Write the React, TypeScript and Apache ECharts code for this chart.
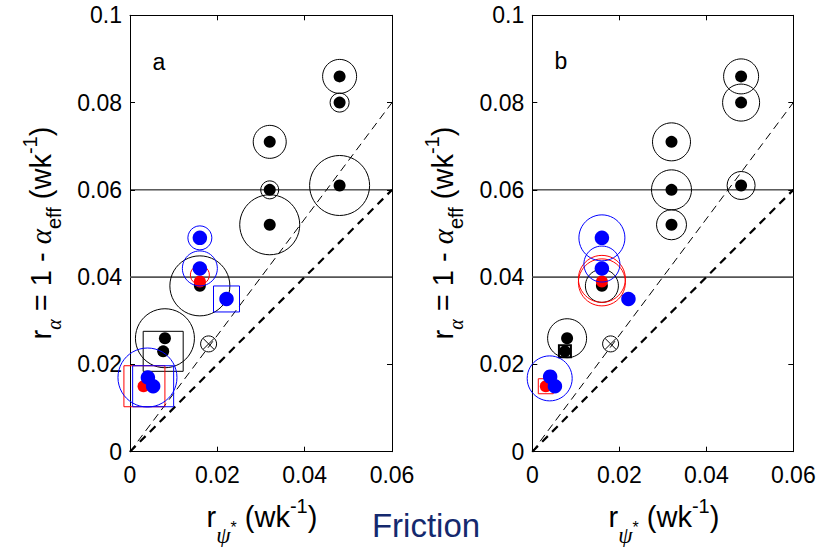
import React, { useEffect, useRef } from "react";
import * as echarts from "echarts";

// ---- axis ticks ----
const xTickValues = [0, 0.02, 0.04, 0.06];
const yTickValues = [0, 0.02, 0.04, 0.06, 0.08, 0.1];

// ---- reference lines ----
const horizontalLevels = [0.04, 0.06];
const steepLine = [[0, 0], [0.06, 0.08]];
const identityLine = [[0, 0], [0.06, 0.06]];

// ---- panel a ----  [x, y] for dots, [x, y, spread] for rings / squares
const aBlackDots = [
  [0.048, 0.086], [0.048, 0.08], [0.032, 0.071], [0.032, 0.06], [0.048, 0.061],
  [0.032, 0.052], [0.016, 0.038], [0.008, 0.026], [0.0076, 0.023],
];
const aBlackRings = [
  [0.048, 0.086, 3.4], [0.048, 0.08, 1.9], [0.032, 0.071, 3.3], [0.032, 0.06, 1.8],
  [0.048, 0.061, 6.0], [0.032, 0.052, 6.0], [0.016, 0.038, 6.0], [0.008, 0.026, 5.9],
];
const aBlackSquares = [[0.0076, 0.023, 4.0]];
const aCrossed = [[0.018, 0.0247]];
const aRedDots = [[0.016, 0.039], [0.0031, 0.015]];
const aRedRings = [[0.016, 0.0405, 1.9]];
const aRedSquares = [[0.0033, 0.015, 4.1]];
const aBlueDots = [[0.016, 0.049], [0.016, 0.042], [0.0221, 0.035], [0.0041, 0.017], [0.0053, 0.015]];
const aBlueRings = [[0.016, 0.049, 2.4], [0.016, 0.042, 3.5], [0.004, 0.017, 5.9]];
const aBlueSquares = [[0.0221, 0.035, 2.6], [0.0053, 0.015, 4.1]];

// ---- panel b ----
const bBlackDots = [
  [0.048, 0.086], [0.048, 0.08], [0.032, 0.071], [0.032, 0.06], [0.048, 0.061],
  [0.032, 0.052], [0.016, 0.038], [0.008, 0.026], [0.0075, 0.023],
];
const bBlackRings = [
  [0.048, 0.086, 3.5], [0.048, 0.08, 3.7], [0.032, 0.071, 3.8], [0.032, 0.06, 4.0],
  [0.048, 0.061, 2.8], [0.032, 0.052, 3.0], [0.016, 0.038, 3.3], [0.008, 0.026, 3.9],
];
const bBlackSquares = [[0.0075, 0.023, 1.2]];
const bCrossed = [[0.018, 0.0247]];
const bRedDots = [[0.016, 0.039], [0.0031, 0.015]];
const bRedRings = [[0.016, 0.0396, 4.7], [0.016, 0.0388, 4.7]];
const bRedSquares = [[0.0031, 0.015, 1.5]];
const bBlueDots = [[0.016, 0.049], [0.016, 0.042], [0.0221, 0.035], [0.0041, 0.0172], [0.0052, 0.015]];
const bBlueRings = [[0.016, 0.049, 4.6], [0.016, 0.043, 3.6], [0.004, 0.0168, 4.5]];
const bBlueSquares: number[][] = [];

const SANS = '"Liberation Sans", Arial, Helvetica, sans-serif';
const SERIF = '"Liberation Serif", "Times New Roman", serif';
const BLACK = "#000000";
const BLUE = "#0000ff";
const RED = "#ff0000";
const SPREAD_PX = 10;

const fmt = (v: number) => String(Number(v.toFixed(2)));

// text measurement for composite (sub/superscript) labels
const ctx = typeof document !== "undefined" ? document.createElement("canvas").getContext("2d") : null;
const measure = (t: string, size: number, family: string, italic: boolean) => {
  if (!ctx) return t.length * size * 0.55;
  ctx.font = `${italic ? "italic " : ""}${size}px ${family}`;
  return ctx.measureText(t).width;
};

type Part = { t: string; size: number; dy?: number; serif?: boolean; italic?: boolean };

function composite(parts: Part[], x: number, y: number, rotation: number, color = "#000") {
  const widths = parts.map((p) => measure(p.t, p.size, p.serif ? SERIF : SANS, !!p.italic));
  const total = widths.reduce((a, b) => a + b, 0);
  let cursor = -total / 2;
  const children = parts.map((p, i) => {
    const el = {
      type: "text",
      x: cursor,
      y: p.dy || 0,
      style: {
        text: p.t,
        fontSize: p.size,
        fontFamily: p.serif ? SERIF : SANS,
        fontStyle: p.italic ? "italic" : "normal",
        fill: color,
        align: "left",
        verticalAlign: "middle",
      },
    };
    cursor += widths[i];
    return el;
  });
  return { type: "group", x, y, rotation, silent: true, children };
}

const M = 29;
const S = 20;
const yTitleParts: Part[] = [
  { t: "r", size: M },
  { t: "α", size: S, dy: 13, serif: true, italic: true },
  { t: " = 1 - ", size: M },
  { t: "α", size: M, serif: true, italic: true },
  { t: "eff", size: S, dy: 13 },
  { t: " (wk", size: M },
  { t: "-1", size: S, dy: -11 },
  { t: ")", size: M },
];
const xTitleParts: Part[] = [
  { t: "r", size: M },
  { t: "ψ", size: 23, dy: 18, serif: true, italic: true },
  { t: "*", size: 16, dy: 10 },
  { t: " (wk", size: M },
  { t: "-1", size: S, dy: -11 },
  { t: ")", size: M },
];

const GRID_TOP = 15.3;
const GRID_H = 436.4;
const grids = [
  { left: 130, top: GRID_TOP, width: 262, height: GRID_H },
  { left: 532.3, top: GRID_TOP, width: 261, height: GRID_H },
];

const tickLabel = { fontSize: 23, fontFamily: SANS, color: "#000" };

function axesFor(g: number) {
  const common = {
    type: "value",
    gridIndex: g,
    splitLine: { show: false },
    axisLine: { show: true, onZero: false, lineStyle: { color: "#000", width: 1 } },
    axisTick: { show: true, inside: true, length: 5, lineStyle: { color: "#000", width: 1 } },
  };
  const xs = [
    { ...common, position: "bottom", min: 0, max: 0.06, interval: 0.02,
      axisLabel: { ...tickLabel, margin: 12, formatter: fmt, showMinLabel: true, showMaxLabel: true } },
    { ...common, position: "top", min: 0, max: 0.06, interval: 0.02, axisLabel: { show: false } },
  ];
  const ys = [
    { ...common, position: "left", min: 0, max: 0.1, interval: 0.02,
      axisLabel: { ...tickLabel, margin: 8, formatter: fmt, showMinLabel: true, showMaxLabel: true } },
    { ...common, position: "right", min: 0, max: 0.1, interval: 0.02, axisLabel: { show: false } },
  ];
  return { xs, ys };
}

function panelSeries(p: number, d: {
  blackDots: number[][]; blackRings: number[][]; blackSquares: number[][]; crossed: number[][];
  redDots: number[][]; redRings: number[][]; redSquares: number[][];
  blueDots: number[][]; blueRings: number[][]; blueSquares: number[][];
}, squareBorder: number) {
  const xi = p * 2;
  const yi = p * 2;
  const base = { type: "scatter", xAxisIndex: xi, yAxisIndex: yi, silent: true, clip: false, emphasis: { disabled: true }, animation: false };
  const dots = (data: number[][], color: string, size: number, z: number) => ({
    ...base, data, symbol: "circle", symbolSize: size, itemStyle: { color, opacity: 1 }, z,
  });
  const outline = (data: number[][], color: string, symbol: string, z: number, bw = 1) => ({
    ...base, data, symbol, symbolSize: (v: number[]) => v[2] * SPREAD_PX,
    itemStyle: { color: "rgba(0,0,0,0)", borderColor: color, borderWidth: bw, opacity: 1 }, z,
  });
  const lines = [
    ...horizontalLevels.map((lv, i) => ({
      type: "line", xAxisIndex: xi, yAxisIndex: yi, silent: true, symbol: "none", z: 1,
      data: [[0, lv], [0.06, lv]],
      lineStyle: i === 0 ? { color: "#555", width: 1.8 } : { color: "#000", width: 1 },
    })),
    { type: "line", xAxisIndex: xi, yAxisIndex: yi, silent: true, symbol: "none", z: 1, clip: true,
      data: steepLine, lineStyle: { color: "#000", width: 1, type: [8, 5] } },
    { type: "line", xAxisIndex: xi, yAxisIndex: yi, silent: true, symbol: "none", z: 1,
      data: identityLine, lineStyle: { color: "#000", width: 2.2, type: [8, 6] } },
  ];
  return [
    ...lines,
    dots(d.blackDots, BLACK, 12, 3),
    outline(d.blackRings, BLACK, "circle", 3),
    outline(d.blackSquares, BLACK, "rect", 3, squareBorder),
    { ...base, data: d.crossed, symbol: "circle", symbolSize: 16, z: 3,
      itemStyle: { color: "rgba(0,0,0,0)", borderColor: BLACK, borderWidth: 1, opacity: 1 } },
    { ...base, data: d.crossed, symbol: "path://M0 0L1 1M0 1L1 0", symbolSize: 11, z: 3,
      itemStyle: { color: "rgba(0,0,0,0)", borderColor: BLACK, borderWidth: 1, opacity: 1 } },
    dots(d.redDots, RED, 12, 4),
    outline(d.redRings, RED, "circle", 4),
    outline(d.redSquares, RED, "rect", 4),
    dots(d.blueDots, BLUE, 14.5, 5),
    outline(d.blueRings, BLUE, "circle", 5),
    outline(d.blueSquares, BLUE, "rect", 5),
  ];
}

export default function App() {
  const ref = useRef<HTMLDivElement>(null);
  useEffect(() => {
    if (!ref.current) return;
    const chart = echarts.init(ref.current, null, { renderer: "svg" });
    const a = axesFor(0);
    const b = axesFor(1);
    chart.setOption({
      animation: false,
      backgroundColor: "#ffffff",
      grid: grids.map((g) => ({ ...g, containLabel: false })),
      xAxis: [...a.xs, ...b.xs],
      yAxis: [...a.ys, ...b.ys],
      series: [
        ...panelSeries(0, {
          blackDots: aBlackDots, blackRings: aBlackRings, blackSquares: aBlackSquares, crossed: aCrossed,
          redDots: aRedDots, redRings: aRedRings, redSquares: aRedSquares,
          blueDots: aBlueDots, blueRings: aBlueRings, blueSquares: aBlueSquares,
        }, 1),
        ...panelSeries(1, {
          blackDots: bBlackDots, blackRings: bBlackRings, blackSquares: bBlackSquares, crossed: bCrossed,
          redDots: bRedDots, redRings: bRedRings, redSquares: bRedSquares,
          blueDots: bBlueDots, blueRings: bBlueRings, blueSquares: bBlueSquares,
        }, 2),
      ],
      graphic: [
        { type: "text", x: 159, y: 62, silent: true,
          style: { text: "a", fontSize: 23, fontFamily: SANS, fill: "#000", align: "center", verticalAlign: "middle" } },
        { type: "text", x: 561, y: 61, silent: true,
          style: { text: "b", fontSize: 23, fontFamily: SANS, fill: "#000", align: "center", verticalAlign: "middle" } },
        composite(yTitleParts, 41, 233, Math.PI / 2),
        composite(yTitleParts, 443, 233, Math.PI / 2),
        composite(xTitleParts, 262, 517, 0),
        composite(xTitleParts, 664, 517, 0),
        { type: "text", x: 426, y: 525, silent: true,
          style: { text: "Friction", fontSize: 33, fontFamily: SANS, fill: "#14296e", align: "center", verticalAlign: "middle" } },
      ],
    });
    return () => chart.dispose();
  }, []);
  return <div ref={ref} style={{ position: "fixed", left: 0, top: 0, width: 832, height: 547 }} />;
}
